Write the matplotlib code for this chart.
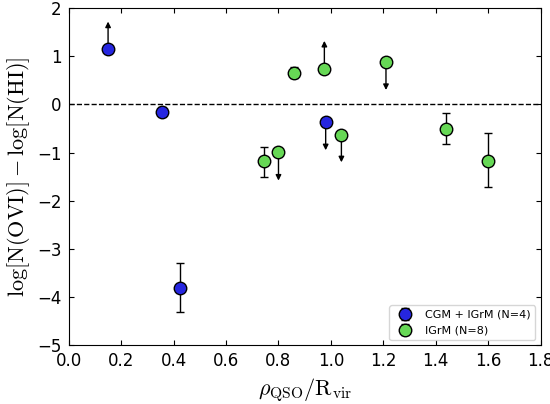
import matplotlib
matplotlib.use("Agg")
import matplotlib.pyplot as plt
import numpy as np

bx = [0.15, 0.355, 0.425, 0.98]
by = [1.15, -0.15, -3.80, -0.37]
b_lo = [0.0, 0.08, 0.50, 0.0]
b_hi = [0.0, 0.10, 0.50, 0.0]
b_lim = [1.72, None, None, -0.95]

gx = [0.745, 0.80, 0.86, 0.975, 1.04, 1.21, 1.44, 1.60]
gy = [-1.18, -0.98, 0.65, 0.74, -0.63, 0.88, -0.50, -1.17]
g_lo = [0.32, 0.0, 0.10, 0.0, 0.0, 0.0, 0.33, 0.55]
g_hi = [0.30, 0.0, 0.12, 0.0, 0.0, 0.0, 0.33, 0.57]
g_lim = [None, -1.58, None, 1.32, -1.20, 0.30, None, None]

plt.rcParams['mathtext.fontset'] = 'cm'
fig, ax = plt.subplots(figsize=(5.5, 4.04), dpi=100)
fig.subplots_adjust(left=0.125, right=0.983, top=0.98, bottom=0.145)

ax.axhline(0, color='k', ls='--', lw=1)

def draw(x, y, lo, hi, lim, color, label):
    ax.errorbar(x, y, yerr=[lo, hi], fmt='o', color=color, mec='k', ms=9,
                ecolor='k', capsize=3, elinewidth=1, label=label, zorder=3)
    for xi, yi, li in zip(x, y, lim):
        if li is not None:
            ax.annotate('', xy=(xi, li), xytext=(xi, yi),
                        arrowprops=dict(arrowstyle='-|>', color='k', lw=1,
                                        mutation_scale=8, shrinkA=0, shrinkB=0),
                        zorder=2)

draw(bx, by, b_lo, b_hi, b_lim, '#2626e0', 'CGM + IGrM (N=4)')
draw(gx, gy, g_lo, g_hi, g_lim, '#66d855', 'IGrM (N=8)')

ax.set_xlim(0, 1.8)
ax.set_ylim(-5, 2)
ax.set_xticks(np.arange(0, 1.81, 0.2))
ax.set_yticks(range(-5, 3))
ax.set_xlabel(r'$\rho_{\rm QSO}/\rm R_{vir}$', fontsize=16)
ax.set_ylabel(r'$\log[\rm N(OVI)]-\log[N(HI)]$', fontsize=16)
ax.tick_params(labelsize=12, direction='in', top=True, right=True, pad=5)
ax.legend(loc='lower right', fontsize=8, numpoints=1)
fig.savefig('out.png')
